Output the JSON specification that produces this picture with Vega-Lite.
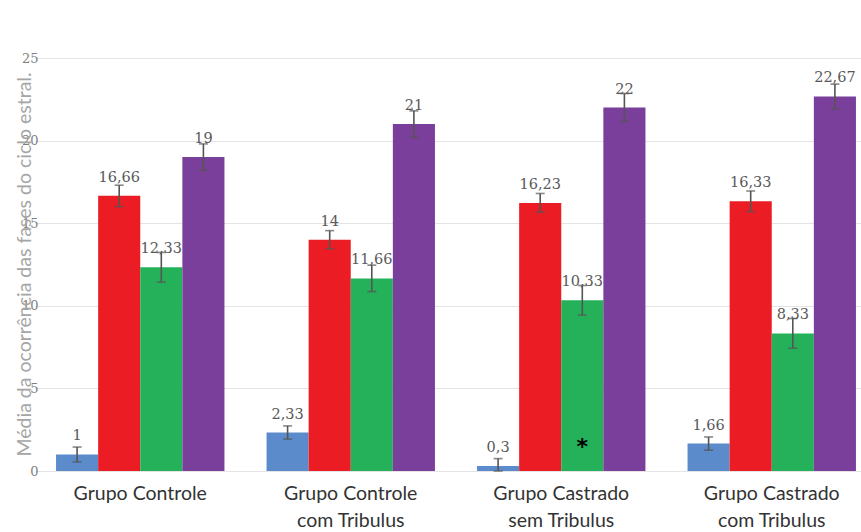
{
  "$schema": "https://vega.github.io/schema/vega-lite/v6.json",
  "autosize": "none",
  "width": 806,
  "height": 413,
  "padding": {"left": 55, "top": 58, "right": 0, "bottom": 61},
  "background": "white",
  "config": {"view": {"stroke": null}},
  "datasets": {
    "fases": [
      {"grupo": "Grupo Controle", "fase": "Proestro", "media": 1, "lo": 0.55, "hi": 1.45, "rotulo": "1"},
      {"grupo": "Grupo Controle", "fase": "Estro", "media": 16.66, "lo": 16.0, "hi": 17.3, "rotulo": "16,66"},
      {"grupo": "Grupo Controle", "fase": "Metaestro", "media": 12.33, "lo": 11.43, "hi": 13.23, "rotulo": "12,33"},
      {"grupo": "Grupo Controle", "fase": "Diestro", "media": 19, "lo": 18.2, "hi": 19.8, "rotulo": "19"},
      {"grupo": "Grupo Controle|com Tribulus", "fase": "Proestro", "media": 2.33, "lo": 1.93, "hi": 2.73, "rotulo": "2,33"},
      {"grupo": "Grupo Controle|com Tribulus", "fase": "Estro", "media": 14, "lo": 13.45, "hi": 14.55, "rotulo": "14"},
      {"grupo": "Grupo Controle|com Tribulus", "fase": "Metaestro", "media": 11.66, "lo": 10.86, "hi": 12.46, "rotulo": "11,66"},
      {"grupo": "Grupo Controle|com Tribulus", "fase": "Diestro", "media": 21, "lo": 20.2, "hi": 21.8, "rotulo": "21"},
      {"grupo": "Grupo Castrado|sem Tribulus", "fase": "Proestro", "media": 0.3, "lo": 0.0, "hi": 0.75, "rotulo": "0,3"},
      {"grupo": "Grupo Castrado|sem Tribulus", "fase": "Estro", "media": 16.23, "lo": 15.66, "hi": 16.8, "rotulo": "16,23"},
      {"grupo": "Grupo Castrado|sem Tribulus", "fase": "Metaestro", "media": 10.33, "lo": 9.43, "hi": 11.23, "rotulo": "10,33"},
      {"grupo": "Grupo Castrado|sem Tribulus", "fase": "Diestro", "media": 22, "lo": 21.15, "hi": 22.85, "rotulo": "22"},
      {"grupo": "Grupo Castrado|com Tribulus", "fase": "Proestro", "media": 1.66, "lo": 1.26, "hi": 2.06, "rotulo": "1,66"},
      {"grupo": "Grupo Castrado|com Tribulus", "fase": "Estro", "media": 16.33, "lo": 15.7, "hi": 16.95, "rotulo": "16,33"},
      {"grupo": "Grupo Castrado|com Tribulus", "fase": "Metaestro", "media": 8.33, "lo": 7.43, "hi": 9.23, "rotulo": "8,33"},
      {"grupo": "Grupo Castrado|com Tribulus", "fase": "Diestro", "media": 22.67, "lo": 21.92, "hi": 23.42, "rotulo": "22,67"}
    ],
    "signif": [
      {"grupo": "Grupo Castrado|sem Tribulus", "fase": "Metaestro", "marca": "*"}
    ]
  },
  "encoding": {
    "x": {
      "field": "grupo", "type": "nominal", "sort": null,
      "scale": {"range": [-20, 822], "paddingInner": 0.2, "paddingOuter": 0.1},
      "axis": {
        "title": null, "domain": false, "ticks": false, "labelAngle": 0,
        "labelExpr": "split(datum.label, '|')",
        "labelFont": "Lato", "labelFontSize": 19.5, "labelColor": "#333333",
        "labelPadding": 13, "labelLineHeight": 27, "labelBaseline": "top"
      }
    },
    "xOffset": {
      "field": "fase", "type": "nominal",
      "sort": ["Proestro", "Estro", "Metaestro", "Diestro"],
      "scale": {"paddingInner": 0, "paddingOuter": 0}
    }
  },
  "layer": [
    {
      "data": {"name": "fases"},
      "mark": {"type": "bar"},
      "encoding": {
        "y": {
          "field": "media", "type": "quantitative",
          "scale": {"domain": [0, 25], "nice": false},
          "axis": {
            "values": [0, 5, 10, 15, 20, 25],
            "title": "Média da ocorrência das fases do ciclo estral.",
            "titleFont": "Lato", "titleFontSize": 19.5, "titleFontWeight": "normal",
            "titleColor": "#a6a6a6", "titleX": -31, "titleY": 206,
            "titleAngle": -90, "titleAlign": "center", "titleBaseline": "middle",
            "domain": false, "ticks": false,
            "labelFont": "DejaVu Serif", "labelFontSize": 13, "labelColor": "#7f7f7f",
            "labelPadding": 17,
            "grid": true, "gridColor": "#e4e4e4", "gridWidth": 1
          }
        },
        "color": {
          "field": "fase", "type": "nominal",
          "sort": ["Proestro", "Estro", "Metaestro", "Diestro"],
          "scale": {"domain": ["Proestro", "Estro", "Metaestro", "Diestro"], "range": ["#5b8bcb", "#ec1c24", "#24b15a", "#7a3f9a"]},
          "legend": null
        }
      }
    },
    {
      "data": {"name": "fases"},
      "mark": {"type": "rule", "color": "#555555", "strokeWidth": 1.6},
      "encoding": {
        "y": {"field": "lo", "type": "quantitative"},
        "y2": {"field": "hi"}
      }
    },
    {
      "data": {"name": "fases"},
      "mark": {"type": "tick", "color": "#555555", "thickness": 1.6, "size": 9, "orient": "horizontal"},
      "encoding": {"y": {"field": "lo", "type": "quantitative"}}
    },
    {
      "data": {"name": "fases"},
      "mark": {"type": "tick", "color": "#555555", "thickness": 1.6, "size": 9, "orient": "horizontal"},
      "encoding": {"y": {"field": "hi", "type": "quantitative"}}
    },
    {
      "data": {"name": "fases"},
      "mark": {"type": "text", "dy": -14, "baseline": "alphabetic", "align": "center", "font": "DejaVu Serif", "fontSize": 14.5, "color": "#595959"},
      "encoding": {
        "y": {"field": "media", "type": "quantitative"},
        "text": {"field": "rotulo"}
      }
    },
    {
      "data": {"name": "signif"},
      "mark": {"type": "text", "baseline": "alphabetic", "align": "center", "font": "DejaVu Sans", "fontSize": 22, "fontWeight": "bold", "color": "#000000"},
      "encoding": {
        "y": {"datum": 1},
        "text": {"field": "marca"}
      }
    }
  ]
}
